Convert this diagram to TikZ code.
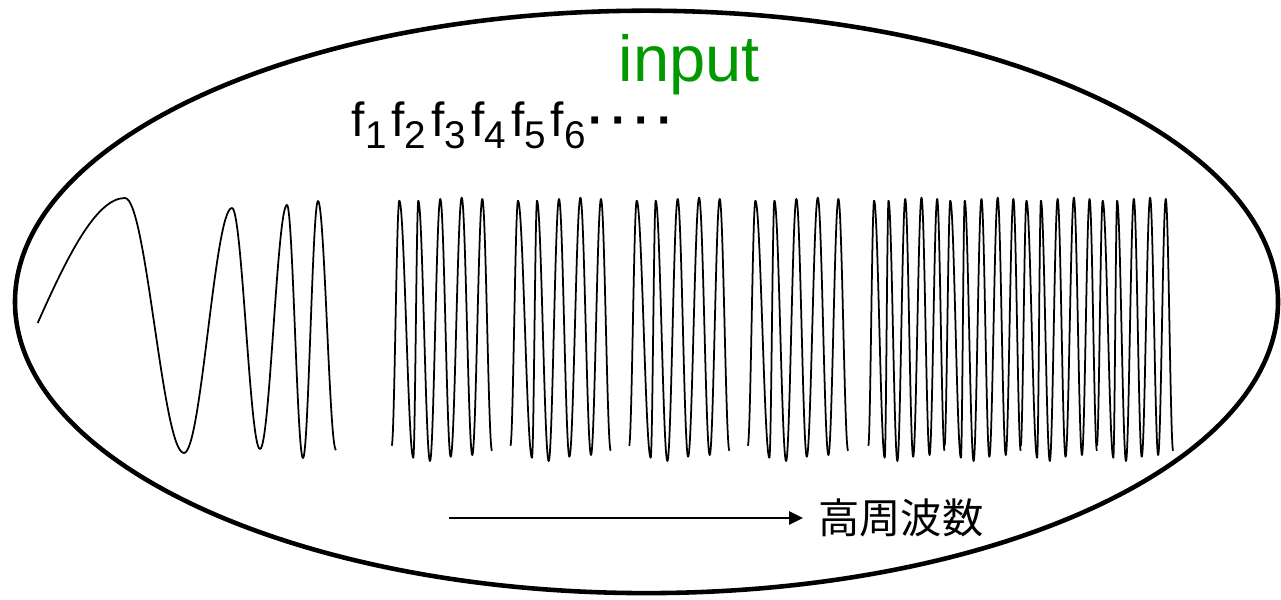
\documentclass[tikz,border=0pt]{standalone}
\usepackage{fontspec}
\setmainfont{Liberation Sans}
\newfontfamily\cjk{Noto Sans CJK JP}
\usetikzlibrary{arrows.meta}

\definecolor{inputgreen}{RGB}{0,153,0}

\tikzset{
  wave/.style={line width=1pt, line join=round},
  frame/.style={line width=2.6pt},
  axisarrow/.style={line width=1.3pt, -{Triangle[length=8pt,width=7.5pt]}, shorten >=8.5pt},
  freq/.style={inner sep=0pt, anchor=base west, font=\fontsize{27.3}{30}\selectfont},
}

\newcommand{\fidx}[1]{f\raisebox{-6.6pt}{\fontsize{22}{22}\selectfont #1}}

% one burst of five cycles, drawn from its left end
\newcommand{\wavegroup}{%
  \draw[wave] (0,445.7)
    \foreach \x/\y [remember=\x as \lastx (initially 0)] in
      {7.6/200.7, 21.6/457.7, 26.6/200.7, 38.3/461, 48.6/199, 59/456.7,
       70/197.7, 80.6/455, 90.6/199, 100.3/450.7}
    { .. controls +({0.3634*(\x-\lastx)},0) and +({-0.3634*(\x-\lastx)},0) .. (\x,\y) };
}

\begin{document}
\begin{tikzpicture}[x=0.02cm, y=-0.02cm]
  \useasboundingbox (0,0) rectangle (1281,599);

  \draw[frame] (646.5,301.9) ellipse [x radius=631.5, y radius=291.2];

  \node (input) [anchor=base west, inner sep=0pt, text=inputgreen,
    font=\fontsize{37}{40}\selectfont] at (618.3,81.7) {input};

  \foreach \i in {1,...,6}
    \node (f\i) [freq] at ({351.5+39.8*(\i-1)},136.7) {\fidx{\i}};
  \node (dots) [freq, font=\bfseries\fontsize{27.3}{30}\selectfont] at (588,136.7)
    {·\kern4pt·\kern4pt·\kern4pt·};

  % low frequencies
  \draw[wave] (37.7,323) .. controls +(29.1,-65.4) and +(-29.1,0) .. (125,198)
    \foreach \x/\y [remember=\x as \lastx (initially 125)] in
      {184/453, 232/208, 260/449, 287/205, 303/458, 318/201, 336/450}
    { .. controls +({0.3634*(\x-\lastx)},0) and +({-0.3634*(\x-\lastx)},0) .. (\x,\y) };

  % bursts
  \foreach \gx in {391.7, 510.4, 629.1, 747.8} {
    \begin{scope}[shift={(\gx,0)}] \wavegroup \end{scope}
  }
  \foreach \k in {0,...,3} {
    \begin{scope}[shift={({868.3+76.2*\k},0)}, xscale=0.76] \wavegroup \end{scope}
  }

  \node (hf) [anchor=west, inner sep=0pt, font=\cjk\fontsize{23.5}{26}\selectfont]
    at (818,518) {高周波数};
  \coordinate (tail) at (448.5,518);
  \draw[axisarrow] (tail) -- (hf);
\end{tikzpicture}
\end{document}
